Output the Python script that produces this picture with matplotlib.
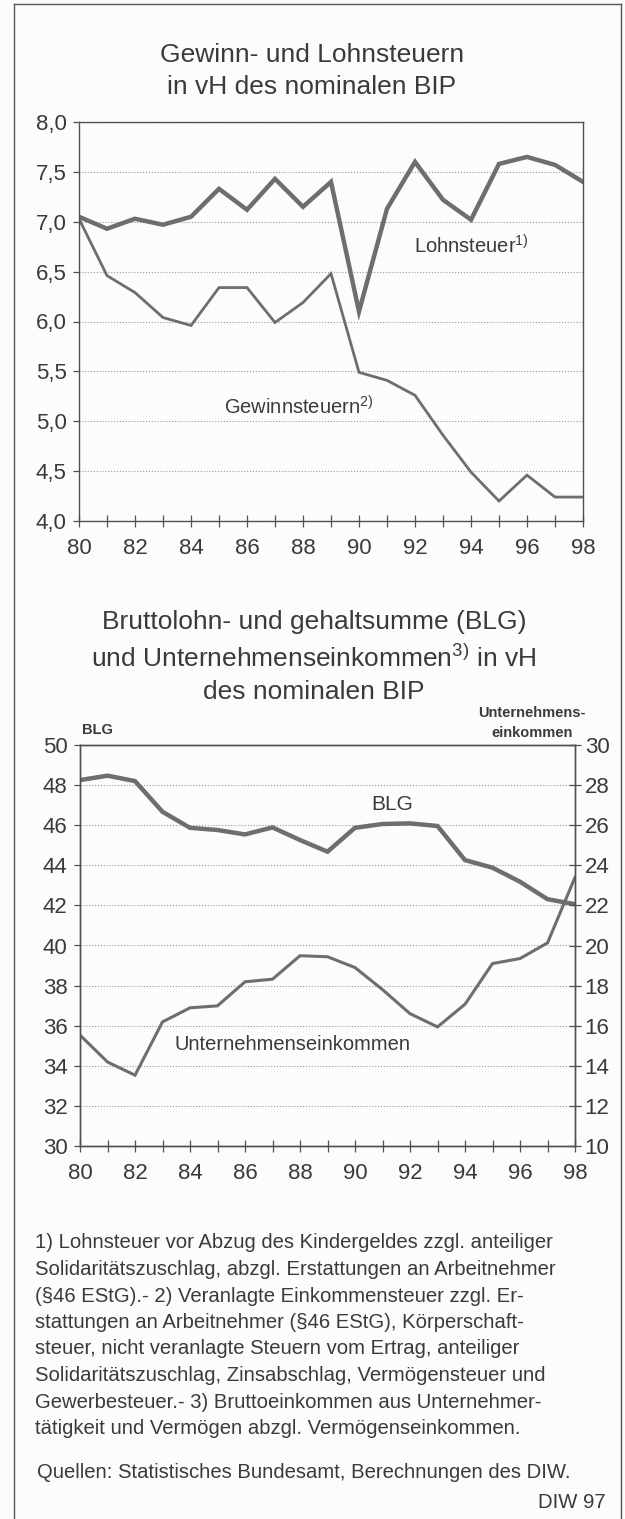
import matplotlib
matplotlib.use("Agg")
import matplotlib.pyplot as plt
from matplotlib.lines import Line2D

plt.rcParams['font.family'] = ['Liberation Sans', 'DejaVu Sans']
plt.rcParams['mathtext.fontset'] = 'custom'
plt.rcParams['mathtext.rm'] = 'Liberation Sans'
plt.rcParams['mathtext.it'] = 'Liberation Sans'
plt.rcParams['mathtext.bf'] = 'Liberation Sans:bold'

# ---------------- data ----------------
years = list(range(80, 99))
year_ticks = [80, 82, 84, 86, 88, 90, 92, 94, 96, 98]

lohnsteuer = [7.05, 6.93, 7.03, 6.97, 7.05, 7.33, 7.12, 7.43, 7.15, 7.40,
              6.10, 7.13, 7.60, 7.22, 7.02, 7.58, 7.65, 7.57, 7.40]
gewinnsteuern = [7.03, 6.46, 6.29, 6.04, 5.96, 6.34, 6.34, 5.99, 6.19, 6.48,
                 5.49, 5.41, 5.26, 4.86, 4.49, 4.20, 4.46, 4.24, 4.24]

blg = [48.25, 48.47, 48.20, 46.67, 45.87, 45.76, 45.54, 45.89, 45.26, 44.68,
       45.87, 46.06, 46.09, 45.96, 44.26, 43.88, 43.18, 42.31, 42.06]
unternehmen = [15.53, 14.19, 13.53, 16.19, 16.89, 16.99, 18.19, 18.32, 19.49, 19.44,
               18.90, 17.80, 16.60, 15.94, 17.07, 19.10, 19.35, 20.13, 23.40]

top_yticks = [4.0, 4.5, 5.0, 5.5, 6.0, 6.5, 7.0, 7.5, 8.0]
top_ylabels = ['4,0', '4,5', '5,0', '5,5', '6,0', '6,5', '7,0', '7,5', '8,0']
left_yticks = [30, 32, 34, 36, 38, 40, 42, 44, 46, 48, 50]
right_yticks = [10, 12, 14, 16, 18, 20, 22, 24, 26, 28, 30]

footnotes = [
    "1) Lohnsteuer vor Abzug des Kindergeldes zzgl. anteiliger",
    "Solidaritätszuschlag, abzgl. Erstattungen an Arbeitnehmer",
    "(§46 EStG).- 2) Veranlagte Einkommensteuer zzgl. Er-",
    "stattungen an Arbeitnehmer (§46 EStG), Körperschaft-",
    "steuer, nicht veranlagte Steuern vom Ertrag, anteiliger",
    "Solidaritätszuschlag, Zinsabschlag, Vermögensteuer und",
    "Gewerbesteuer.- 3) Bruttoeinkommen aus Unternehmer-",
    "tätigkeit und Vermögen abzgl. Vermögenseinkommen.",
]

# ---------------- style ----------------
W, H = 625, 1519
DPI = 100
BG = '#fcfcfc'
TXT = '#3a3a3a'
LINE = '#6e6e6e'
SPINE = '#505050'
GRID = '#9a9a9a'
TICKFS = 16
TITLEFS = 19
LABELFS = 14.5
NOTEFS = 14.6

fig = plt.figure(figsize=(W / DPI, H / DPI), dpi=DPI, facecolor=BG)


def fx(x):
    return x / W


def fy(y):
    return 1 - y / H


def axes_px(left, top, right, bottom):
    return fig.add_axes([fx(left), fy(bottom), (right - left) / W, (bottom - top) / H])


# outer frame
for xs, ys in [([14, 14], [4, H]), ([14, 621], [4, 4]), ([621, 621], [4, H])]:
    fig.add_artist(Line2D([fx(v) for v in xs], [fy(v) for v in ys],
                          color='#555555', lw=1.0, transform=fig.transFigure))


def style_axes(ax):
    ax.set_facecolor(BG)
    for s in ax.spines.values():
        s.set_color(SPINE)
        s.set_linewidth(1.0)
    ax.grid(axis='y', linestyle=(0, (1, 1.6)), color=GRID, lw=0.8)
    ax.set_axisbelow(True)
    ax.set_xlim(80, 98)
    ax.set_xticks(years)
    ax.set_xticklabels([str(y) if y in year_ticks else '' for y in years])
    ax.tick_params(axis='x', direction='inout', length=9, width=0.9, color=SPINE,
                   labelsize=TICKFS, labelcolor=TXT, pad=8)
    ax.tick_params(axis='y', direction='out', length=4, width=0.9, color=SPINE,
                   labelsize=TICKFS, labelcolor=TXT, pad=5)


# ---------------- top chart ----------------
ax1 = axes_px(79, 122, 583, 521)
style_axes(ax1)
ax1.set_ylim(4, 8)
ax1.set_yticks(top_yticks)
ax1.set_yticklabels(top_ylabels)
ax1.plot(years, gewinnsteuern, color=LINE, lw=2.0, solid_joinstyle='miter')
ax1.plot(years, lohnsteuer, color=LINE, lw=3.2, solid_joinstyle='miter')

fig.text(fx(312), fy(55), "Gewinn- und Lohnsteuern", ha='center', va='center',
         fontsize=TITLEFS, color=TXT)
fig.text(fx(312), fy(87), "in vH des nominalen BIP", ha='center', va='center',
         fontsize=TITLEFS, color=TXT)
fig.text(fx(414), fy(246), r"Lohnsteuer$^{1)}$", ha='left', va='center',
         fontsize=LABELFS, color=TXT)
fig.text(fx(224), fy(407), r"Gewinnsteuern$^{2)}$", ha='left', va='center',
         fontsize=LABELFS, color=TXT)

# ---------------- bottom chart ----------------
ax2 = axes_px(80, 745, 575, 1146)
style_axes(ax2)
ax2.set_ylim(30, 50)
ax2.set_yticks(left_yticks)
ax2.set_yticklabels([str(v) for v in left_yticks])
ax2.plot(years, blg, color=LINE, lw=3.2, solid_joinstyle='miter')

ax3 = ax2.twinx()
ax3.set_ylim(10, 30)
ax3.set_yticks(right_yticks)
ax3.set_yticklabels([str(v) for v in right_yticks])
ax3.tick_params(axis='y', direction='inout', length=8, width=0.9, color=SPINE,
                labelsize=TICKFS, labelcolor=TXT, pad=3)
for s in ax3.spines.values():
    s.set_color(SPINE)
    s.set_linewidth(1.0)
ax3.plot(years, unternehmen, color=LINE, lw=2.2, solid_joinstyle='miter')

fig.text(fx(314), fy(622), "Bruttolohn- und gehaltsumme (BLG)", ha='center', va='center',
         fontsize=TITLEFS, color=TXT)
fig.text(fx(314), fy(658), r"und Unternehmenseinkommen$^{3)}$ in vH", ha='center', va='center',
         fontsize=TITLEFS, color=TXT)
fig.text(fx(314), fy(692), "des nominalen BIP", ha='center', va='center',
         fontsize=TITLEFS, color=TXT)
fig.text(fx(82), fy(730), "BLG", ha='left', va='center', fontsize=10.5,
         fontweight='bold', color=TXT)
fig.text(fx(586), fy(713), "Unternehmens-", ha='right', va='center', fontsize=10.5,
         fontweight='bold', color=TXT)
fig.text(fx(573), fy(733), "einkommen", ha='right', va='center', fontsize=10.5,
         fontweight='bold', color=TXT)
fig.text(fx(392), fy(805), "BLG", ha='center', va='center', fontsize=15, color=TXT)
fig.text(fx(174), fy(1044), "Unternehmenseinkommen", ha='left', va='center',
         fontsize=LABELFS, color=TXT)

# ---------------- footnotes ----------------
for i, line in enumerate(footnotes):
    fig.text(fx(35), fy(1243 + i * 26.5), line, ha='left', va='center',
             fontsize=NOTEFS, color=TXT)
fig.text(fx(37), fy(1473), "Quellen: Statistisches Bundesamt, Berechnungen des DIW.",
         ha='left', va='center', fontsize=NOTEFS, color=TXT)
fig.text(fx(606), fy(1502), "DIW 97", ha='right', va='center', fontsize=NOTEFS, color=TXT)

fig.savefig("out.png", dpi=DPI, facecolor=BG)
